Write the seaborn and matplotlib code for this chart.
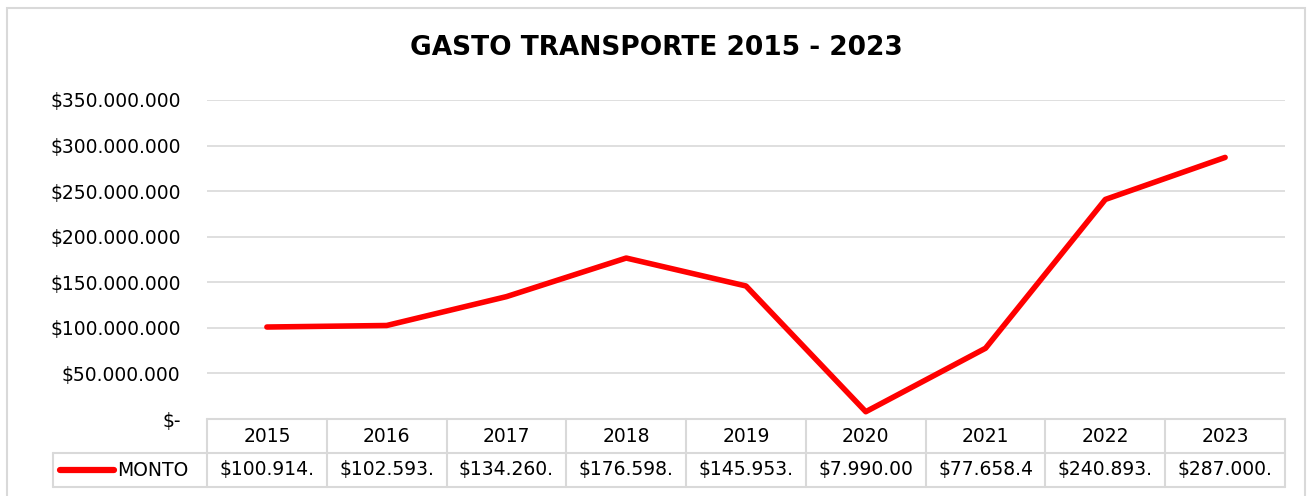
import matplotlib
matplotlib.use("Agg")
import matplotlib.pyplot as plt
import seaborn as sns
import pandas as pd
from matplotlib.patches import Rectangle
from matplotlib.ticker import FuncFormatter

sns.set_theme(style="white")
plt.rcParams["font.family"] = ["DejaVu Sans"]

TITULO = "GASTO TRANSPORTE 2015 - 2023"
SERIE = "MONTO"
anios = ["2015", "2016", "2017", "2018", "2019", "2020", "2021", "2022", "2023"]
montos = [100914000, 102593000, 134260000, 176598000, 145953000,
          7990000, 77658400, 240893000, 287000000]
y_ticks = [0, 50000000, 100000000, 150000000, 200000000, 250000000, 300000000, 350000000]

ROJO = "#ff0000"
GRIS = "#d9d9d9"
W, H = 1312, 496


def fmt_peso(v, pos=None):
    if v == 0:
        return "$-"
    return "$" + f"{int(round(v)):,}".replace(",", ".")


df = pd.DataFrame({"anio": anios, "monto": montos})

fig = plt.figure(figsize=(W / 100, H / 100), dpi=100)
# plot area in pixel terms: x 207..1285, y 100 (350M) .. 419 (0)
x0, x1, ytop, ybot = 207, 1285, 100, 419
ax = fig.add_axes([x0 / W, 1 - ybot / H, (x1 - x0) / W, (ybot - ytop) / H])

sns.lineplot(data=df, x="anio", y="monto", ax=ax, color=ROJO, linewidth=4,
             solid_capstyle="round", sort=False)

ax.set_xlim(-0.5, len(anios) - 0.5)
ax.set_ylim(0, 350000000)
ax.set_yticks(y_ticks)
ax.yaxis.set_major_formatter(FuncFormatter(fmt_peso))
ax.tick_params(axis="y", length=0, pad=19, labelsize=13.5, labelcolor="#000000")
ax.set_xticks([])
ax.set_xlabel("")
ax.set_ylabel("")
ax.grid(axis="y", color=GRIS, linewidth=1.2)
ax.set_axisbelow(True)
for s in ax.spines.values():
    s.set_visible(False)

fig.text(0.5, 1 - 48 / H, TITULO, ha="center", va="center",
         fontsize=19, fontweight="bold", color="#000000")


# ---- data table under the plot (drawn in axes fraction) ----
def fx(px):
    return (px - x0) / (x1 - x0)


def fy(py):
    return (ybot - py) / (ybot - ytop)


r0, r1, r2 = 419, 453, 487
leg_left = 53
col_w = (x1 - x0) / len(anios)
kw = dict(transform=ax.transAxes, clip_on=False, color=GRIS, linewidth=1.5)

ax.plot([fx(x0), fx(x1)], [fy(r0), fy(r0)], **kw)
ax.plot([fx(leg_left), fx(x1)], [fy(r1), fy(r1)], **kw)
ax.plot([fx(leg_left), fx(x1)], [fy(r2), fy(r2)], **kw)
ax.plot([fx(leg_left), fx(leg_left)], [fy(r1), fy(r2)], **kw)
for k in range(len(anios) + 1):
    xx = fx(x0 + k * col_w)
    ax.plot([xx, xx], [fy(r0), fy(r2)], **kw)

for k, (a, m) in enumerate(zip(anios, montos)):
    cx = fx(x0 + (k + 0.5) * col_w)
    ax.text(cx, fy((r0 + r1) / 2), a, transform=ax.transAxes, ha="center",
            va="center", fontsize=13.5, color="#000000")
    ax.text(cx, fy((r1 + r2) / 2), fmt_peso(m)[:9], transform=ax.transAxes,
            ha="center", va="center", fontsize=13.5, color="#000000")

ax.plot([fx(60), fx(114)], [fy(470), fy(470)], transform=ax.transAxes,
        clip_on=False, color=ROJO, linewidth=4.5, solid_capstyle="round")
ax.text(fx(117), fy(470), SERIE, transform=ax.transAxes, ha="left",
        va="center", fontsize=13.5, color="#000000")

# chart area border
fig.patches.append(Rectangle((7 / W, -0.02), (1305 - 7) / W, 1 - 8 / H + 0.02,
                             transform=fig.transFigure, fill=False,
                             edgecolor=GRIS, linewidth=1.5))

fig.savefig("out.png", dpi=100, facecolor="white")
